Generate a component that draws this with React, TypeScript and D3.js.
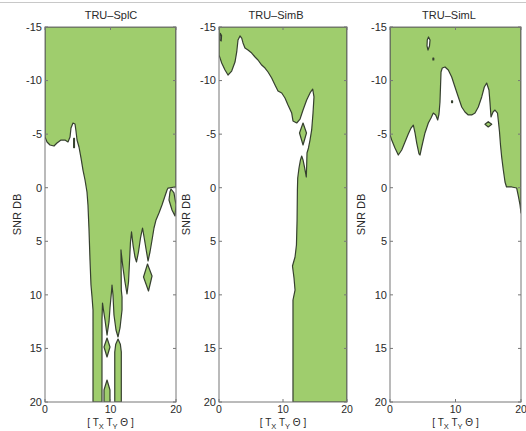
import React from "react";
import * as d3 from "d3";

type Pt = [number, number];

// ---------- DATA ----------
const titles = ["TRU–SplC", "TRU–SimB", "TRU–SimL"];
const yTicks = [-15, -10, -5, 0, 5, 10, 15, 20];
const xTicks = [0, 10, 20];
const xDomain: [number, number] = [0, 20];
const yDomain: [number, number] = [-15, 20];

// TRU-SplC: filled (green) regions
const splcFilled: Pt[][] = [
  [[0,-15],[0,-4.73],[0.31,-4.27],[0.76,-3.99],[1.37,-3.89],[1.83,-4.17],[2.44,-4.45],[3.05,-4.45],[3.51,-4.27],[3.82,-4.73],[3.97,-5.57],[4.27,-6.04],[4.58,-5.95],[4.73,-5.29],[4.89,-4.45],[5.19,-3.8],[5.5,-2.77],[5.8,-1.65],[6.11,-0.72],[6.41,0.4],[6.56,1.61],[6.72,3.95],[6.87,6.75],[7.02,9.08],[7.18,10.2],[7.33,11.41],[7.33,20],[8.7,20],[8.7,12.35],[8.78,10.76],[8.93,11.41],[9.16,12.35],[9.47,13.75],[9.77,12.53],[9.92,11.23],[10.15,9.73],[10.23,9.08],[10.38,10.01],[10.53,11.88],[10.84,13.28],[11.15,13.93],[11.45,13.09],[11.76,11.41],[11.76,10.2],[11.65,9.55],[11.6,5.81],[11.68,6.28],[11.91,7.49],[12.21,8.8],[12.52,9.92],[12.75,8.8],[12.9,6.93],[13.05,5.07],[13.21,4.13],[13.44,5.35],[13.74,6.47],[13.97,6.93],[14.27,6.0],[14.58,4.69],[14.89,3.76],[15.2,4.88],[15.5,6.0],[15.73,6.84],[16.03,6.0],[16.34,4.88],[16.64,3.76],[16.95,3.01],[17.4,2.36],[17.86,1.61],[18.32,0.77],[18.63,0.21],[18.78,0.03],[20,-0.07],[20,-15]],
  [[9.47,14.03],[9.92,14.87],[9.47,15.8],[9.01,14.87]],
  [[9.47,17.95],[9.92,18.88],[9.92,20],[9.01,20],[9.01,18.88]],
  [[11.15,14.12],[11.5,14.6],[11.65,15.33],[11.65,20],[10.65,20],[10.65,15.33],[10.8,14.6]],
  [[15.65,7.12],[16.34,8.24],[15.8,9.64],[15.04,8.33]],
  [[19.24,0.12],[19.69,0.49],[20,1.61],[19.85,2.64],[19.39,2.08],[18.93,1.15],[19.08,0.4]],
  [[4.37,-4.6],[4.5,-4.6],[4.5,-3.75],[4.37,-3.75]],
];
const splcHoles: Pt[][] = [];

// TRU-SimB
const simbFilled: Pt[][] = [
  [[0,-15],[20,-15],[20,20],[11.56,20],[11.56,10.48],[11.88,9.55],[11.72,8.43],[11.48,7.31],[11.88,6.47],[12.1,5.35],[12.2,3.01],[12.25,0.21],[12.3,-0.91],[12.5,-1.84],[12.73,-2.59],[12.92,-2.96],[13.13,-2.59],[13.36,-1.93],[13.64,-1.0],[13.7,-2.12],[13.75,-3.24],[13.98,-3.71],[14.22,-4.45],[14.48,-5.39],[14.69,-6.97],[14.84,-8.47],[14.64,-9.21],[14.3,-8.93],[13.7,-8.19],[13.13,-7.25],[12.66,-6.41],[12.14,-6.04],[11.56,-6.23],[11.36,-6.97],[10.78,-7.72],[10.31,-8.37],[9.8,-8.84],[9.22,-9.03],[8.75,-9.59],[8.23,-10.24],[7.66,-10.8],[7.19,-11.17],[6.67,-11.45],[6.09,-11.92],[5.63,-12.2],[5.11,-12.57],[4.53,-12.85],[4.06,-13.04],[3.75,-13.51],[3.55,-13.97],[3.28,-14.16],[2.97,-13.79],[2.77,-12.67],[2.5,-11.73],[1.98,-10.89],[1.41,-10.52],[0.94,-10.99],[0.42,-11.64],[0,-12.39]],
  [[13.13,-6.04],[13.67,-5.11],[13.13,-3.99],[12.58,-5.11]],
];
const simbHoles: Pt[][] = [
  [[0.2,-14.4],[0.4,-14.2],[0.35,-13.7],[0.15,-13.8]],
];

// TRU-SimL
const simlFilled: Pt[][] = [
  [[0,-15],[20,-15],[20,2.36],[19.85,1.61],[19.59,0.77],[19.34,0.03],[18.58,-0.07],[17.79,-0.07],[17.56,-0.53],[17.3,-1.65],[17.05,-2.87],[16.87,-3.99],[16.72,-5.2],[16.56,-6.13],[16.41,-6.97],[16.03,-7.25],[15.73,-7.07],[15.42,-6.6],[15.27,-7.91],[15.11,-9.12],[14.76,-9.77],[14.4,-9.4],[14.0,-8.47],[13.48,-7.53],[12.98,-6.97],[12.47,-6.79],[11.95,-6.79],[11.45,-7.07],[10.95,-7.53],[10.43,-8.47],[9.92,-9.4],[9.42,-10.33],[8.9,-10.99],[8.4,-11.27],[7.98,-11.17],[7.79,-10.8],[7.71,-9.4],[7.63,-8.0],[7.48,-6.88],[7.28,-6.32],[6.98,-6.79],[6.61,-6.97],[6.26,-6.51],[5.85,-6.04],[5.34,-5.11],[4.84,-3.8],[4.58,-3.05],[4.43,-3.15],[4.08,-4.17],[3.82,-5.11],[3.56,-5.85],[3.21,-5.57],[2.79,-5.01],[2.29,-4.27],[1.79,-3.52],[1.27,-3.05],[0.76,-3.71],[0.26,-4.45],[0,-4.92]],
  [[9.4,-8.1],[9.55,-8.1],[9.55,-7.95],[9.4,-7.95]],
  [[14.5,-5.92],[15.0,-6.16],[15.53,-5.92],[15.0,-5.67]],
];
const simlHoles: Pt[][] = [
  [[5.88,-14.07],[6.11,-13.79],[6.03,-13.23],[5.8,-12.85],[5.65,-13.23],[5.69,-13.79]],
  [[6.55,-12.1],[6.68,-12.1],[6.68,-11.93],[6.55,-11.93]],
];

const panelFilled = [splcFilled, simbFilled, simlFilled];
const panelHoles = [splcHoles, simbHoles, simlHoles];

// ---------- LAYOUT ----------
const W = 526;
const H = 431;
const TOP = 27;
const BOTTOM = 402;
const layout = [
  { left: 45, right: 176, titleX: 111, ylabX: 17 },
  { left: 219, right: 347, titleX: 276, ylabX: 186 },
  { left: 390, right: 521, titleX: 449, ylabX: 361 },
];
const GREEN = "#9fcd6d";
const LINE = "#36402f";
const AXIS = "#777";
const TEXT = "#2a2a2a";
const FONT = "'Liberation Sans', Arial, Helvetica, sans-serif";

function Panel({ i }: { i: number }) {
  const L = layout[i];
  const x = d3.scaleLinear().domain(xDomain).range([L.left, L.right]);
  const y = d3.scaleLinear().domain(yDomain).range([TOP, BOTTOM]);
  const line = d3
    .line<Pt>()
    .x((d) => x(d[0]))
    .y((d) => y(d[1]))
    .curve(d3.curveLinearClosed);
  const clipId = `clip-${i}`;
  const cx = (L.left + L.right) / 2;
  const cy = (TOP + BOTTOM) / 2;
  return (
    <g>
      <defs>
        <clipPath id={clipId}>
          <rect x={L.left} y={TOP} width={L.right - L.left} height={BOTTOM - TOP} />
        </clipPath>
      </defs>
      <g clipPath={`url(#${clipId})`}>
        {panelFilled[i].map((p, k) => (
          <path key={"f" + k} d={line(p) || ""} fill={GREEN} stroke={LINE} strokeWidth={1.2} strokeLinejoin="round" />
        ))}
        {panelHoles[i].map((p, k) => (
          <path key={"h" + k} d={line(p) || ""} fill="#fff" stroke={LINE} strokeWidth={1.2} strokeLinejoin="round" />
        ))}
      </g>
      <rect x={L.left} y={TOP} width={L.right - L.left} height={BOTTOM - TOP} fill="none" stroke={AXIS} strokeWidth={1} />
      {yTicks.map((t) => (
        <g key={"y" + t}>
          <line x1={L.left} x2={L.left + 3} y1={y(t)} y2={y(t)} stroke={AXIS} />
          <line x1={L.right} x2={L.right - 3} y1={y(t)} y2={y(t)} stroke={AXIS} />
          <text x={L.left - 3} y={y(t)} dy="0.35em" textAnchor="end" fontSize={11} fill={TEXT} fontFamily={FONT}>
            {t}
          </text>
        </g>
      ))}
      {xTicks.map((t) => (
        <g key={"x" + t}>
          <line x1={x(t)} x2={x(t)} y1={BOTTOM} y2={BOTTOM - 3} stroke={AXIS} />
          <line x1={x(t)} x2={x(t)} y1={TOP} y2={TOP + 3} stroke={AXIS} />
          <text x={x(t)} y={BOTTOM + 11} textAnchor="middle" fontSize={10.5} fill={TEXT} fontFamily={FONT}>
            {t}
          </text>
        </g>
      ))}
      <text x={L.titleX} y={19} textAnchor="middle" fontSize={11} fill={TEXT} fontFamily={FONT}>
        {titles[i]}
      </text>
      <text
        transform={`translate(${L.ylabX},${cy}) rotate(-90)`}
        textAnchor="middle"
        dy="0.35em"
        fontSize={11}
        fill={TEXT}
        fontFamily={FONT}
      >
        SNR DB
      </text>
      <text x={cx} y={426} textAnchor="middle" fontSize={10} fill={TEXT} fontFamily={FONT}>
        {"[ T"}
        <tspan dy={2.5} fontSize={7.5}>X</tspan>
        <tspan dy={-2.5}>{" T"}</tspan>
        <tspan dy={2.5} fontSize={7.5}>Y</tspan>
        <tspan dy={-2.5}>{" Θ ]"}</tspan>
      </text>
    </g>
  );
}

export default function App() {
  return (
    <svg
      width={W}
      height={H}
      style={{ position: "absolute", left: 0, top: 0, display: "block", background: "#fff" }}
    >
      <line x1={0} x2={W} y1={2.5} y2={2.5} stroke="#c8c8c8" strokeWidth={1} />
      {[0, 1, 2].map((i) => (
        <Panel key={i} i={i} />
      ))}
    </svg>
  );
}
